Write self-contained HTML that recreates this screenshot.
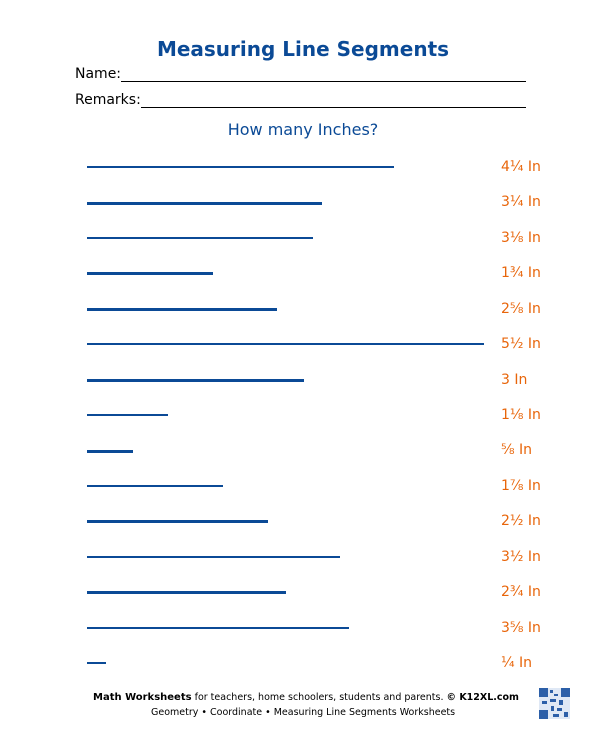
<!DOCTYPE html>
<html><head><meta charset="utf-8"><style>
body{margin:0;width:606px;height:750px;background:#fff;position:relative;font-family:"DejaVu Sans","Liberation Sans",sans-serif;overflow:hidden}
.a{position:absolute;white-space:nowrap}
.t{left:0;width:606px;text-align:center;top:37px;font-size:20px;font-weight:bold;color:#0b4a96}
.lab{font-size:14px;color:#000}
.ul{position:absolute;height:1px;background:#000}
.q{left:0;width:606px;text-align:center;top:120px;font-size:16px;color:#0b4a96}
.seg{position:absolute;left:87px;background:#0b4a96}
.ans{position:absolute;left:501px;font-size:14px;color:#e8650a}
.f1{font-size:10px;font-weight:bold}
.ft{left:0;width:606px;text-align:center;font-size:9.5px;color:#000}
</style></head><body>
<div class="a t">Measuring Line Segments</div>
<div class="a lab" style="left:75px;top:66px">Name:</div>
<div class="ul" style="left:121px;width:405px;top:81px"></div>
<div class="a lab" style="left:75px;top:92px">Remarks:</div>
<div class="ul" style="left:141px;width:385px;top:107px"></div>
<div class="a q">How many Inches?</div>

<div class="seg" style="top:166px;width:307px;height:2px"></div><div class="ans" style="top:159px">4¼ In</div>
<div class="seg" style="top:202px;width:235px;height:3px"></div><div class="ans" style="top:194px">3¼ In</div>
<div class="seg" style="top:237px;width:226px;height:2px"></div><div class="ans" style="top:230px">3⅛ In</div>
<div class="seg" style="top:272px;width:126px;height:3px"></div><div class="ans" style="top:265px">1¾ In</div>
<div class="seg" style="top:308px;width:190px;height:3px"></div><div class="ans" style="top:301px">2⅝ In</div>
<div class="seg" style="top:343px;width:397px;height:2px"></div><div class="ans" style="top:336px">5½ In</div>
<div class="seg" style="top:379px;width:217px;height:3px"></div><div class="ans" style="top:372px">3 In</div>
<div class="seg" style="top:414px;width:81px;height:2px"></div><div class="ans" style="top:407px">1⅛ In</div>
<div class="seg" style="top:450px;width:46px;height:3px"></div><div class="ans" style="top:442px">⅝ In</div>
<div class="seg" style="top:485px;width:136px;height:2px"></div><div class="ans" style="top:478px">1⅞ In</div>
<div class="seg" style="top:520px;width:181px;height:3px"></div><div class="ans" style="top:513px">2½ In</div>
<div class="seg" style="top:556px;width:253px;height:2px"></div><div class="ans" style="top:549px">3½ In</div>
<div class="seg" style="top:591px;width:199px;height:3px"></div><div class="ans" style="top:584px">2¾ In</div>
<div class="seg" style="top:627px;width:262px;height:2px"></div><div class="ans" style="top:620px">3⅝ In</div>
<div class="seg" style="top:662px;width:19px;height:2px"></div><div class="ans" style="top:655px">¼ In</div>

<div class="a" style="left:93px;top:692px;font-size:9.5px;color:#000"><span class="f1">Math Worksheets</span> for teachers, home schoolers, students and parents. <b>© K12XL.com</b></div>
<div class="a" style="left:151px;top:707px;font-size:9.5px;color:#000">Geometry • Coordinate • Measuring Line Segments Worksheets</div>
<svg class="a" style="left:539px;top:688px" width="31" height="31" viewBox="0 0 31 31">
<rect width="31" height="31" fill="#dfe8f5"/>
<g fill="#2c5fa8">
<rect x="0" y="0" width="9" height="9"/><rect x="22" y="0" width="9" height="9"/><rect x="0" y="22" width="9" height="9"/>
<rect x="11" y="2" width="3" height="3"/><rect x="15" y="6" width="4" height="2"/><rect x="11" y="11" width="6" height="3"/>
<rect x="20" y="12" width="4" height="5"/><rect x="3" y="13" width="5" height="3"/><rect x="12" y="18" width="3" height="5"/>
<rect x="18" y="20" width="5" height="3"/><rect x="25" y="24" width="4" height="5"/><rect x="14" y="26" width="6" height="3"/>
</g></svg>
</body></html>
